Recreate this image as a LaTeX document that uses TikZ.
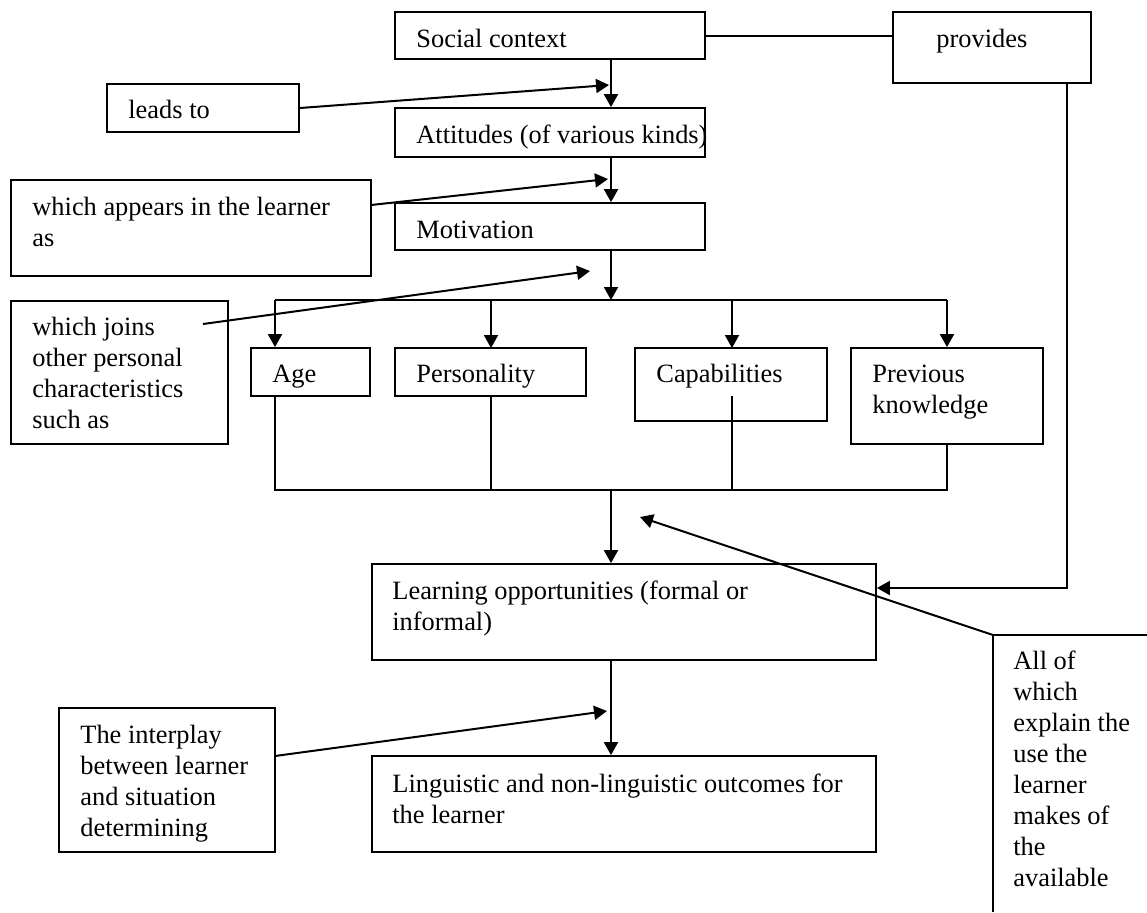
\documentclass[tikz,border=0pt]{standalone}
\usepackage{fontspec}
\setmainfont{Liberation Serif}
\usetikzlibrary{arrows.meta,fit}
\newcommand\mlines[1]{\vtop{\baselineskip=15.5pt\lineskiplimit=-10pt\halign{##\hfil\cr#1\crcr}}}
\begin{document}
\begin{tikzpicture}[x=0.5pt,y=-0.5pt,
  box/.style={draw=black,line width=0.9pt,inner sep=0pt},
  txt/.style={inner sep=0pt,anchor=base west,font=\fontsize{13.2pt}{15.5pt}\selectfont},
  conn/.style={line width=1pt},
  arr/.style={line width=1pt,-{Triangle[length=6.5pt,width=7pt]}}]
\useasboundingbox (0,0) rectangle (1147,912);
% box corners
\coordinate (a1) at (395,12);  \coordinate (b1) at (705,59);
\coordinate (a2) at (893,12);  \coordinate (b2) at (1091,83);
\coordinate (a3) at (107,84);  \coordinate (b3) at (299,132);
\coordinate (a4) at (395,108); \coordinate (b4) at (705,157);
\coordinate (a5) at (11,180);  \coordinate (b5) at (371,276);
\coordinate (a6) at (395,203); \coordinate (b6) at (705,250);
\coordinate (a7) at (11,301);  \coordinate (b7) at (228,444);
\coordinate (a8) at (251,348); \coordinate (b8) at (370,396);
\coordinate (a9) at (395,348); \coordinate (b9) at (586,396);
\coordinate (a10) at (635,348); \coordinate (b10) at (827,421);
\coordinate (a11) at (851,348); \coordinate (b11) at (1043,444);
\coordinate (a12) at (372,564); \coordinate (b12) at (876,660);
\coordinate (a13) at (59,708);  \coordinate (b13) at (275,852);
\coordinate (a14) at (372,756); \coordinate (b14) at (876,852);
\node[box,fit=(a1)(b1)] (soc) {};
\node[box,fit=(a2)(b2)] (prov) {};
\node[box,fit=(a3)(b3)] (leads) {};
\node[box,fit=(a4)(b4)] (att) {};
\node[box,fit=(a5)(b5)] (app) {};
\node[box,fit=(a6)(b6)] (mot) {};
\node[box,fit=(a7)(b7)] (joins) {};
\node[box,fit=(a8)(b8)] (age) {};
\node[box,fit=(a9)(b9)] (pers) {};
\node[box,fit=(a10)(b10)] (cap) {};
\node[box,fit=(a11)(b11)] (prev) {};
\node[box,fit=(a12)(b12)] (learn) {};
\node[box,fit=(a13)(b13)] (inter) {};
\node[box,fit=(a14)(b14)] (ling) {};
% open box on the right
\coordinate (allnw) at (993,635);
\coordinate (allsw) at (993,912);
\coordinate (allne) at (1147,635);
\draw[box] (allsw) -- (allnw) -- (allne);
% texts
\node[txt] (t1) at (416,47) {Social context};
\node[txt] (t2) at (936,47) {provides};
\node[txt] (t3) at (128,118) {leads to};
\node[txt] (t4) at (416,143) {Attitudes (of various kinds)};
\node[txt] (t5) at (32,215) {\mlines{which appears in the learner\cr as}};
\node[txt] (t6) at (416,238) {Motivation};
\node[txt] (t7) at (32,335) {\mlines{which joins\cr other personal\cr characteristics\cr such as}};
\node[txt] (t8) at (272,382) {Age};
\node[txt] (t9) at (416,382) {Personality};
\node[txt] (t10) at (656,382) {Capabilities};
\node[txt] (t11) at (872,382) {\mlines{Previous\cr knowledge}};
\node[txt] (t12) at (392,599) {\mlines{Learning opportunities (formal or\cr informal)}};
\node[txt] (t13) at (80,743) {\mlines{The interplay\cr between learner\cr and situation\cr determining}};
\node[txt] (t14) at (392,792) {\mlines{Linguistic and non-linguistic outcomes for\cr the learner}};
\node[txt] (t15) at (1013,669) {\mlines{All of\cr which\cr explain the\cr use the\cr learner\cr makes of\cr the\cr available}};
% helper coordinates
\coordinate (ax) at (611,0);
\coordinate (tipA) at (609,85);
\coordinate (tipB) at (608,179);
\coordinate (tipC) at (590,271);
\coordinate (tipD) at (640,517);
\coordinate (tipE) at (607,711);
\coordinate (srcB) at (371,205);
\coordinate (srcC) at (203,324);
\coordinate (srcE) at (275,756);
\coordinate (dl) at (275,300); \coordinate (dr) at (947,300);
\coordinate (cl) at (275,490); \coordinate (cr) at (947,490);
\coordinate (pc) at (1067,588);
% connectors
\draw[conn] (soc.east) -- (soc.east -| prov.west);
\draw[arr] (ax |- soc.south) -- (ax |- att.north);
\draw[arr] (leads.east) -- (tipA);
\draw[arr] (ax |- att.south) -- (ax |- mot.north);
\draw[arr] (srcB) -- (tipB);
\draw[arr] (ax |- mot.south) -- (ax |- dl);
\draw[conn] (dl) -- (dr);
\draw[arr] (dl) -- (dl |- age.north);
\draw[arr] (491,300) -- (491,348);
\draw[arr] (732,300) -- (732,348);
\draw[arr] (dr) -- (dr |- prev.north);
\draw[arr] (srcC) -- (tipC);
\draw[conn] (cl |- age.south) -- (cl) -- (cr) -- (cr |- prev.south);
\draw[conn] (491,396) -- (491,490);
\draw[conn] (732,396) -- (732,490);
\draw[arr] (ax |- cl) -- (ax |- learn.north);
\draw[arr] (prov.south -| pc) -- (pc) -- (pc -| learn.east);
\draw[arr] (allnw) -- (tipD);
\draw[arr] (srcE) -- (tipE);
\draw[arr] (ax |- learn.south) -- (ax |- ling.north);
\end{tikzpicture}
\end{document}
